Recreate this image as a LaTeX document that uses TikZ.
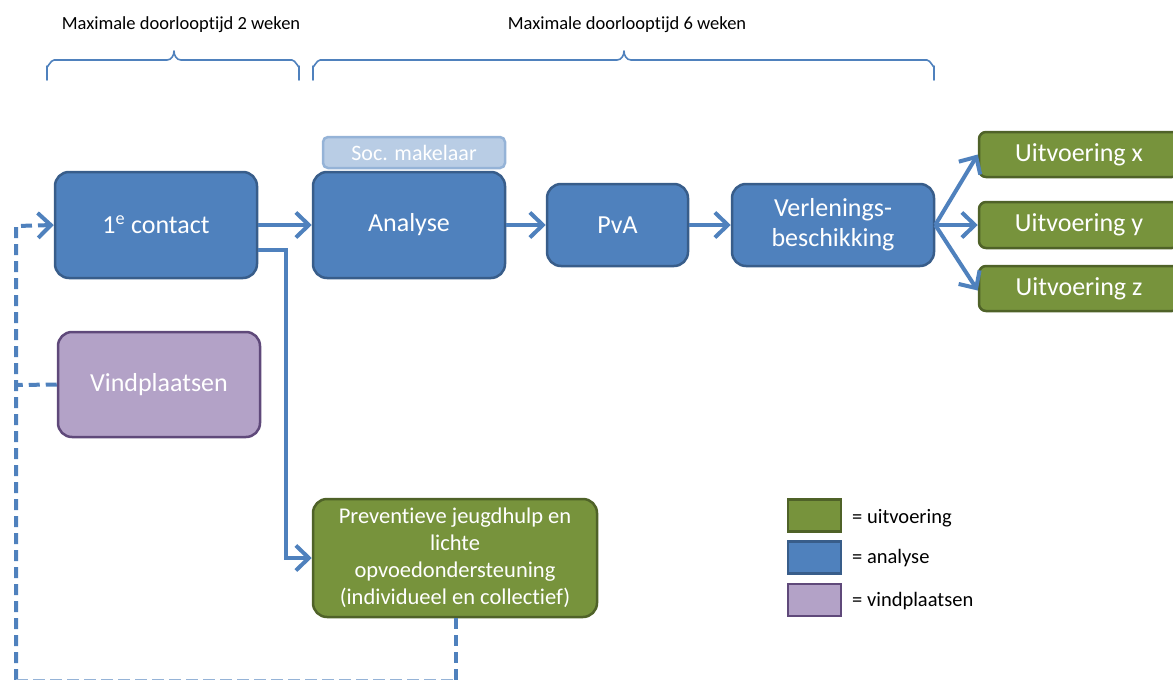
\documentclass[tikz,border=0pt]{standalone}
\usepackage{fontspec}
\setmainfont{Carlito}[Ligatures={NoCommon}]
\usetikzlibrary{arrows.meta}
\definecolor{ablue}{HTML}{4F81BD}
\definecolor{ablueD}{HTML}{385D8A}
\definecolor{agreen}{HTML}{77933C}
\definecolor{agreenD}{HTML}{4F6228}
\definecolor{apurple}{HTML}{B3A2C7}
\definecolor{apurpleD}{HTML}{5F497A}
\definecolor{alight}{HTML}{B9CDE5}
\definecolor{alightD}{HTML}{95B3D7}
\tikzset{
  box/.style={draw, line width=2.5pt, rounded corners=14pt, text=white, align=center, inner sep=0pt, font=\fontsize{26}{30}\selectfont},
  bluebox/.style={box, fill=ablue, draw=ablueD},
  greenbox/.style={box, fill=agreen, draw=agreenD},
  purplebox/.style={box, fill=apurple, draw=apurpleD},
  tip/.style={-{Straight Barb[length=13pt,width=25pt,line width=4pt]}},
  conn/.style={draw=ablue, line width=4pt, tip},
  dconn/.style={draw=ablue, line width=4pt, dash pattern=on 11pt off 6pt},
  brace/.style={draw=ablue, line width=1.6pt, line cap=round, line join=round},
  legbox/.style={draw, line width=2.5pt, minimum width=53pt, minimum height=32pt, inner sep=0pt},
  legtext/.style={anchor=west, font=\fontsize{20.5}{24}\selectfont, inner sep=0pt},
  head/.style={font=\fontsize{18.5}{22}\selectfont, inner sep=0pt}
}
\begin{document}
\begin{tikzpicture}[x=1pt,y=-1pt]
\useasboundingbox (0,0) rectangle (1173,680);
% headers
\node[head] (h1) at (181,25) {Maximale doorlooptijd 2 weken};
\node[head] (h2) at (627,25) {Maximale doorlooptijd 6 weken};
% braces
\draw[brace] (47,80) -- (47,66) to[out=-90,in=180] (54,60) -- (167,60) to[out=0,in=-90] (174,51) to[out=-90,in=180] (181,60) -- (292,60) to[out=0,in=-90] (299,66) -- (299,80);
\draw[brace] (313,80) -- (313,66) to[out=-90,in=180] (320,60) -- (617,60) to[out=0,in=-90] (624,51) to[out=-90,in=180] (631,60) -- (927,60) to[out=0,in=-90] (934,66) -- (934,80);
% nodes
\node[bluebox, minimum width=202pt, minimum height=106pt] (c1) at (156,225) {1\textsuperscript{e} contact};
\node[box, fill=alight, draw=alightD, rounded corners=5pt, minimum width=182pt, minimum height=31pt, font=\fontsize{22}{26}\selectfont] (soc) at (414,152.5) {Soc. makelaar};
\node[bluebox, minimum width=192pt, minimum height=106pt] (an) at (409,225) {Analyse};
\node[bluebox, minimum width=141pt, minimum height=82pt] (pva) at (617.5,225) {PvA};
\node[bluebox, minimum width=202pt, minimum height=82pt] (vb) at (833,225) {Verlenings-\\beschikking};
\node[greenbox, rounded corners=7pt, minimum width=200pt, minimum height=45pt] (ux) at (1079,154.5) {Uitvoering x};
\node[greenbox, rounded corners=7pt, minimum width=200pt, minimum height=46pt] (uy) at (1079,225) {Uitvoering y};
\node[greenbox, rounded corners=7pt, minimum width=200pt, minimum height=45pt] (uz) at (1079,288.5) {Uitvoering z};
\node[purplebox, minimum width=202pt, minimum height=105pt] (vp) at (159,384.5) {Vindplaatsen};
\node[greenbox, minimum width=284pt, minimum height=118pt, font=\fontsize{22.5}{27}\selectfont] (pj) at (455,558) {Preventieve jeugdhulp en\\lichte\\opvoedondersteuning\\(individueel en collectief)};
% legend
\node[legbox, fill=agreen, draw=agreenD] (lg) at (814.5,515.5) {};
\node[legbox, fill=ablue, draw=ablueD] (lb) at (814.5,557.5) {};
\node[legbox, fill=apurple, draw=apurpleD] (lp) at (814.5,600) {};
\node[legtext] (tg) at (852,518) {= uitvoering};
\node[legtext] (tb) at (852,558) {= analyse};
\node[legtext] (tp) at (852,601) {= vindplaatsen};
% coordinates for dashed loop
\coordinate (dl) at (16,680);
\coordinate (dt) at (16,226);
\coordinate (dv) at (16,385);
\coordinate (dbr) at (456,680);
\coordinate (jn) at (286,250);
% connectors
\draw[conn] (c1.east) -- (an.west);
\draw[conn] (an.east) -- (pva.west);
\draw[conn] (pva.east) -- (vb.west);
\draw[conn] (vb.east) -- (ux.west);
\draw[conn] (vb.east) -- (uy.west);
\draw[conn] (vb.east) -- ([yshift=-2pt]uz.west);
\draw[conn, line join=miter] (c1.east |- jn) -- (jn) |- (pj.west);
% dashed
\draw[dconn, tip] (dl) -- (dt) -- (c1.west);
\draw[dconn] (vp.west) -- (dv);
\draw[dconn] (pj.south -| dbr) -- (dbr);
\draw[draw=alightD, line width=1.5pt, dash pattern=on 12pt off 5pt] (dl) -- (dbr);
\end{tikzpicture}
\end{document}
